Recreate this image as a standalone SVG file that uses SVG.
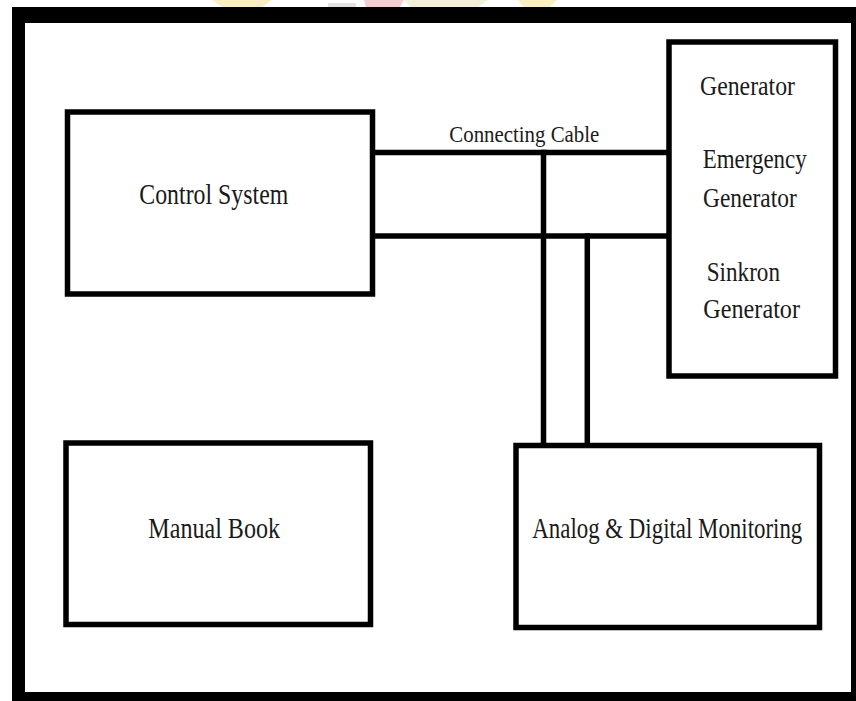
<svg xmlns="http://www.w3.org/2000/svg" width="856" height="701" viewBox="0 0 856 701">
<style>
.box{fill:#fff;stroke:#000;stroke-width:5.5}
.wire{stroke:#000;stroke-width:5.5;fill:none;stroke-linecap:square}
.t{font-family:"Liberation Serif","Times New Roman",serif;font-size:24px;fill:#1a1a1a}
.s{font-family:"Liberation Serif","Times New Roman",serif;font-size:21px;fill:#1a1a1a}
</style>
<rect width="856" height="701" fill="#fff"/>
<g id="watermark" opacity="0.4">
<path d="M212 0 L272 0 L262 7 L222 7 Z" fill="#f2d66a"/>
<path d="M328 3 L356 3 L356 7 L328 7 Z" fill="#bbb"/>
<path d="M364 0 L404 0 L400 7 L366 7 Z" fill="#e88a8a"/>
<path d="M404 0 L488 0 L478 7 L410 7 Z" fill="#e8d9a0"/>
<path d="M518 0 L557 0 L550 7 L524 7 Z" fill="#f2d66a"/>
</g>
<g id="frame">
<rect x="12" y="7" width="850" height="700" fill="#000"/>
<rect x="25" y="23" width="826" height="669" fill="#fff"/>
</g>
<g id="connectors">
<line class="wire" x1="372.5" y1="152.5" x2="669" y2="152.5"/>
<line class="wire" x1="372.5" y1="236" x2="669" y2="236"/>
<line class="wire" x1="543.5" y1="152.5" x2="543.5" y2="445.5"/>
<line class="wire" x1="587.3" y1="236" x2="587.3" y2="445.5"/>
<text class="s" transform="translate(449.3,141.7) scale(1,1.12)" textLength="150" lengthAdjust="spacingAndGlyphs">Connecting Cable</text>
</g>
<g id="control-system">
<rect class="box" x="67.5" y="112" width="305" height="182"/>
<text class="t" transform="translate(139.3,204.3) scale(1,1.22)" textLength="149" lengthAdjust="spacingAndGlyphs">Control System</text>
</g>
<g id="generators">
<rect class="box" x="669" y="42" width="166.5" height="334"/>
<text class="t" transform="translate(700,95) scale(1,1.17)" textLength="95" lengthAdjust="spacingAndGlyphs">Generator</text>
<text class="t" transform="translate(702.7,168.3) scale(1,1.17)" textLength="104" lengthAdjust="spacingAndGlyphs">Emergency</text>
<text class="t" transform="translate(703,206.7) scale(1,1.17)" textLength="93.7" lengthAdjust="spacingAndGlyphs">Generator</text>
<text class="t" transform="translate(706.7,280.7) scale(1,1.17)" textLength="73.3" lengthAdjust="spacingAndGlyphs">Sinkron</text>
<text class="t" transform="translate(703.3,318.3) scale(1,1.17)" textLength="96.7" lengthAdjust="spacingAndGlyphs">Generator</text>
</g>
<g id="manual-book">
<rect class="box" x="66" y="443" width="304.5" height="181.5"/>
<text class="t" transform="translate(148.3,538.3) scale(1,1.22)" textLength="131.7" lengthAdjust="spacingAndGlyphs">Manual Book</text>
</g>
<g id="monitoring">
<rect class="box" x="516" y="445.5" width="303.5" height="182"/>
<text class="t" transform="translate(532.3,538.3) scale(1,1.22)" textLength="270" lengthAdjust="spacingAndGlyphs">Analog &amp; Digital Monitoring</text>
</g>
</svg>
